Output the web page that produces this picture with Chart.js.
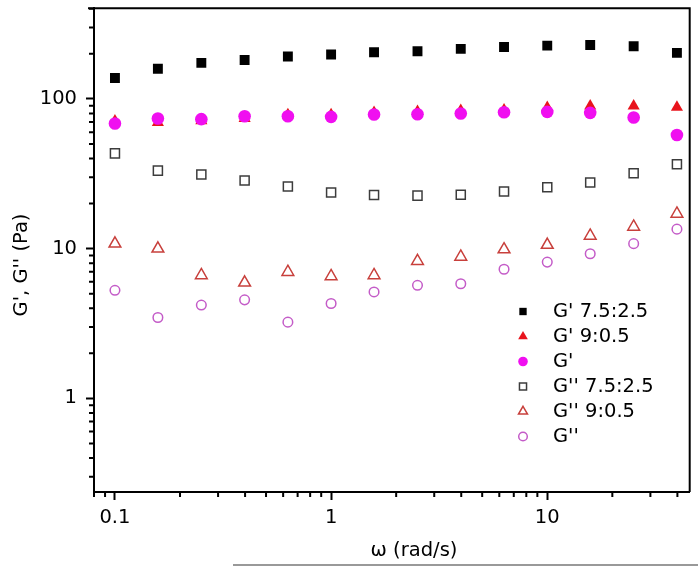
<!DOCTYPE html>
<html>
<head>
<meta charset="utf-8">
<script src="https://cdn.jsdelivr.net/npm/chart.js@4/dist/chart.umd.min.js"></script>
<style>
  html, body { margin: 0; padding: 0; background: #fff; }
  #wrap { width: 698px; height: 567px; position: relative; }
</style>
</head>
<body>
<div id="wrap"><canvas id="chart"></canvas></div>
<script>
// angular frequency (rad/s)
const omega = [0.1, 0.158, 0.251, 0.398, 0.631, 1, 1.58, 2.51, 3.98, 6.31, 10, 15.8, 25.1, 39.8];

// moduli (Pa)
const gStorage752 = [138, 159, 174, 182, 192, 198, 205, 208, 216, 222, 227, 229, 225, 203];
const gStorage905 = [71.1, 69.6, 71.4, 73.9, 78.3, 78.3, 81.2, 82.5, 83.7, 84.5, 87.5, 89.8, 89.8, 88.1];
const gStorage = [68.5, 74, 73.3, 76.7, 76.7, 75.9, 78.7, 79.1, 79.9, 81.5, 81.9, 80.7, 75.1, 57.4];
const gLoss752 = [43.3, 33.2, 31.3, 28.5, 26.0, 23.7, 22.8, 22.6, 22.9, 24.1, 25.7, 27.7, 31.9, 36.6];
const gLoss905 = [10.8, 10.0, 6.64, 5.93, 6.98, 6.54, 6.64, 8.26, 8.83, 9.88, 10.6, 12.2, 14.0, 17.1];
const gLoss = [5.27, 3.47, 4.20, 4.55, 3.23, 4.30, 5.14, 5.69, 5.83, 7.28, 8.13, 9.24, 10.8, 13.5];

const seriesLabels = ["G' 7.5:2.5", "G' 9:0.5", "G'", "G'' 7.5:2.5", "G'' 9:0.5", "G''"];

const FONT = "'DejaVu Sans', sans-serif";
const FONT_SIZE = 19.5;
const TEXT_COLOR = '#000';

function pts(arr) {
    return omega.map((x, i) => ({ x: x, y: arr[i] }));
}

function isPow10(v) {
    const l = Math.log10(v);
    return Math.abs(l - Math.round(l)) < 1e-9;
}

function minorMantissa(v) {
    const m = v / Math.pow(10, Math.floor(Math.log10(v) + 1e-9));
    const r = Math.round(m);
    return (Math.abs(m - r) < 1e-6 && r >= 2 && r <= 9);
}

const datasets = [
    { label: seriesLabels[0], data: pts(gStorage752), pointStyle: 'rect', pointRadius: 7,
      backgroundColor: '#000', borderColor: '#000', borderWidth: 0, legendRadius: 5.2 },
    { label: seriesLabels[1], data: pts(gStorage905), pointStyle: 'triangle', pointRadius: 7,
      backgroundColor: '#e8141c', borderColor: '#e8141c', borderWidth: 0, legendRadius: 5.6, order: 5 },
    { label: seriesLabels[2], data: pts(gStorage), pointStyle: 'circle', pointRadius: 6.3,
      backgroundColor: '#f00ff0', borderColor: '#f00ff0', borderWidth: 0, legendRadius: 4.8 },
    { label: seriesLabels[3], data: pts(gLoss752), pointStyle: 'rect', pointRadius: 6.4,
      backgroundColor: 'rgba(0,0,0,0)', borderColor: '#3c3c3c', borderWidth: 1.5, legendRadius: 5 },
    { label: seriesLabels[4], data: pts(gLoss905), pointStyle: 'triangle', pointRadius: 6.8,
      backgroundColor: 'rgba(0,0,0,0)', borderColor: '#c8403c', borderWidth: 1.5, legendRadius: 5.2 },
    { label: seriesLabels[5], data: pts(gLoss), pointStyle: 'circle', pointRadius: 4.8,
      backgroundColor: 'rgba(0,0,0,0)', borderColor: '#c45cc8', borderWidth: 1.5, legendRadius: 4.3 }
];
datasets.forEach(d => { d.pointHoverRadius = d.pointRadius; d.showLine = false; });

// frame, minor ticks, titles and the in-plot legend
const decorPlugin = {
    id: 'decor',
    afterDraw(chart) {
        const ctx = chart.ctx;
        const a = chart.chartArea;
        const xs = chart.scales.x, ys = chart.scales.y;
        ctx.save();
        ctx.strokeStyle = '#000';
        ctx.lineWidth = 2;
        ctx.beginPath();
        ctx.moveTo(a.left - 6, a.top);
        ctx.lineTo(a.right, a.top);
        ctx.lineTo(a.right, a.bottom);
        ctx.stroke();

        ctx.beginPath();
        xs.ticks.forEach(t => {
            if (!minorMantissa(t.value)) return;
            const px = xs.getPixelForValue(t.value);
            ctx.moveTo(px, a.bottom);
            ctx.lineTo(px, a.bottom + 5);
        });
        ys.ticks.forEach(t => {
            if (!minorMantissa(t.value)) return;
            const py = ys.getPixelForValue(t.value);
            ctx.moveTo(a.left, py);
            ctx.lineTo(a.left - 5, py);
        });
        ctx.stroke();

        ctx.fillStyle = TEXT_COLOR;
        ctx.font = FONT_SIZE + 'px ' + FONT;
        ctx.textAlign = 'center';
        ctx.textBaseline = 'middle';
        ctx.fillText('\u03c9 (rad/s)', 414, 551);
        ctx.save();
        ctx.translate(22, 265);
        ctx.rotate(-Math.PI / 2);
        ctx.fillText("G', G'' (Pa)", 0, 0);
        ctx.restore();

        ctx.strokeStyle = '#777';
        ctx.lineWidth = 1.5;
        ctx.beginPath();
        ctx.moveTo(233, 565);
        ctx.lineTo(698, 565);
        ctx.stroke();

        // legend
        ctx.textAlign = 'left';
        chart.data.datasets.forEach((d, i) => {
            const y = 311.5 + i * 25;
            ctx.fillStyle = d.backgroundColor;
            ctx.strokeStyle = d.borderColor;
            ctx.lineWidth = d.borderWidth;
            Chart.helpers.drawPoint(ctx, {
                pointStyle: d.pointStyle, radius: d.legendRadius, rotation: 0, borderWidth: d.borderWidth
            }, 523, y);
            ctx.fillStyle = TEXT_COLOR;
            ctx.fillText(d.label, 553, y);
        });
        ctx.restore();
    }
};

function tickLabel(v) {
    return isPow10(v) ? String(Number(v.toPrecision(1))) : '';
}

function axisGrid() {
    return {
        drawOnChartArea: false,
        drawTicks: true,
        tickLength: 8,
        tickWidth: 2,
        tickColor: c => (c.tick && isPow10(c.tick.value)) ? '#000' : 'rgba(0,0,0,0)'
    };
}

new Chart(document.getElementById('chart'), {
    type: 'scatter',
    data: { datasets: datasets },
    plugins: [decorPlugin],
    options: {
        responsive: true,
        maintainAspectRatio: false,
        animation: false,
        layout: { padding: { left: 0, top: 6, right: 6, bottom: 0 } },
        plugins: {
            legend: { display: false },
            tooltip: { enabled: false }
        },
        scales: {
            x: {
                type: 'logarithmic',
                min: 0.08,
                max: 45.6,
                afterFit: s => { s.height = 75; s.paddingLeft = 0; s.paddingRight = 0; },
                border: { display: true, color: '#000', width: 2 },
                grid: axisGrid(),
                ticks: {
                    autoSkip: false, maxRotation: 0, minRotation: 0, padding: 6,
                    color: TEXT_COLOR, font: { family: FONT, size: FONT_SIZE },
                    callback: tickLabel
                }
            },
            y: {
                type: 'logarithmic',
                min: 0.237,
                max: 403,
                afterFit: s => { s.width = 94; s.paddingTop = 0; s.paddingBottom = 0; },
                border: { display: true, color: '#000', width: 2 },
                grid: axisGrid(),
                ticks: {
                    autoSkip: false, padding: 9,
                    color: TEXT_COLOR, font: { family: FONT, size: FONT_SIZE },
                    callback: tickLabel
                }
            }
        }
    }
});
</script>
</body>
</html>
